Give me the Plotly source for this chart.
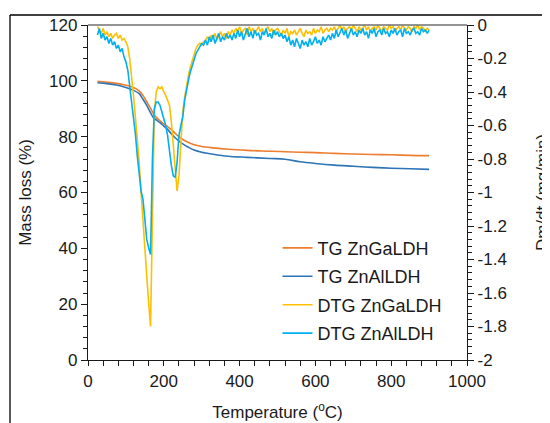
import plotly.graph_objects as go

# ---------------- data ----------------
tg_temp = [25, 50, 75, 100, 120, 135, 145, 155, 165, 172, 180, 190, 200, 210, 220, 230, 240,
           250, 265, 280, 300, 330, 370, 420, 480, 520, 560, 600, 650, 700, 750, 800, 850, 900]
tg_znga = [99.8, 99.5, 99.1, 98.4, 97.6, 96.4, 94.8, 92.5, 90.2, 88.4, 86.9, 85.7, 84.6, 83.6,
           82.5, 81.2, 80.0, 79.0, 77.9, 77.1, 76.5, 76.0, 75.5, 75.1, 74.8, 74.6, 74.4, 74.3,
           74.0, 73.8, 73.6, 73.5, 73.3, 73.2]
tg_znal = [99.3, 99.0, 98.5, 97.6, 96.6, 95.4, 93.4, 91.2, 88.6, 86.9, 86.0, 85.0, 83.8, 82.6,
           81.0, 79.6, 78.4, 77.4, 76.2, 75.2, 74.4, 73.7, 73.0, 72.6, 72.2, 71.9, 71.0, 70.4,
           69.8, 69.4, 69.0, 68.7, 68.5, 68.3]

# DTG series sampled every 5 degC starting at 25 degC
dtg_start = 25
dtg_step = 5
dtg_znga = [
    # 25-100
    -0.01, -0.03, -0.05, -0.02, -0.06, -0.04, -0.07, -0.05, -0.08, -0.06, -0.05, -0.08, -0.06, -0.09, -0.08, -0.10,
    # 105-170
    -0.13, -0.20, -0.30, -0.42, -0.55, -0.68, -0.82, -1.00, -1.18, -1.35, -1.50, -1.66, -1.80, -1.10,
    # 175-240
    -0.52, -0.40, -0.37, -0.38, -0.37, -0.40, -0.42, -0.45, -0.48, -0.58, -0.72, -0.86, -0.99, -0.90,
    # 245-305
    -0.72, -0.52, -0.43, -0.36, -0.30, -0.25, -0.21, -0.17, -0.14, -0.12, -0.11, -0.12, -0.10,
    # 310-380
    -0.09, -0.07, -0.10, -0.06, -0.08, -0.05, -0.09, -0.06, -0.04, -0.07, -0.05, -0.08, -0.04, -0.06, -0.03,
    # 385-500
    -0.05, -0.02, -0.04, -0.01, -0.05, -0.03, -0.02, -0.06, -0.01, -0.04, -0.02, -0.05, -0.03, -0.01, -0.04,
    -0.02, -0.05, -0.03, -0.01, -0.04, -0.02, -0.06, -0.03, -0.02,
    # 505-640
    -0.04, -0.06, -0.03, -0.05, -0.02, -0.07, -0.04, -0.05, -0.03, -0.06, -0.04, -0.02, -0.05, -0.07,
    -0.03, -0.05, -0.04, -0.06, -0.02, -0.05, -0.03, -0.04, -0.01, -0.05, -0.03, -0.02, -0.04, -0.02,
    # 645-900
    -0.03, -0.01, -0.04, -0.02, 0.0, -0.03, -0.01, -0.04, -0.02, -0.01, -0.03, 0.0, -0.02, -0.04, -0.01,
    -0.03, -0.02, 0.0, -0.03, -0.01, -0.04, -0.02, -0.01, -0.03, 0.0, -0.02, -0.04, -0.01, -0.02, -0.03,
    0.0, -0.02, -0.01, -0.04, -0.02, -0.01, -0.03, 0.0, -0.02, -0.03, -0.01, -0.02, -0.04, -0.01, -0.02,
    0.0, -0.03, -0.01, -0.02, -0.04, -0.02, -0.03,
]
dtg_znal = [
    # 25-100
    -0.06, -0.02, -0.08, -0.05, -0.09, -0.07, -0.11, -0.08, -0.12, -0.10, -0.14, -0.12, -0.16, -0.14, -0.19, -0.22,
    # 105-170
    -0.27, -0.36, -0.45, -0.55, -0.65, -0.78, -0.90, -0.99, -1.04, -1.18, -1.28, -1.33, -1.37, -0.80,
    # 175-240
    -0.50, -0.46, -0.46, -0.48, -0.52, -0.56, -0.60, -0.66, -0.76, -0.84, -0.90, -0.91, -0.82, -0.66,
    # 245-305
    -0.60, -0.55, -0.45, -0.38, -0.33, -0.28, -0.24, -0.20, -0.17, -0.15, -0.13, -0.11, -0.12,
    # 310-380
    -0.09, -0.12, -0.07, -0.10, -0.06, -0.11, -0.08, -0.05, -0.10, -0.07, -0.09, -0.05, -0.08, -0.06, -0.09,
    # 385-520
    -0.05, -0.08, -0.03, -0.07, -0.04, -0.09, -0.05, -0.02, -0.07, -0.04, -0.08, -0.03, -0.06, -0.05,
    -0.09, -0.04, -0.06, -0.02, -0.07, -0.05, -0.08, -0.03, -0.06, -0.04, -0.07, -0.05, -0.08, -0.06,
    # 525-640
    -0.10, -0.07, -0.12, -0.09, -0.13, -0.08, -0.11, -0.14, -0.09, -0.12, -0.10, -0.13, -0.08, -0.12,
    -0.10, -0.07, -0.11, -0.09, -0.12, -0.07, -0.10, -0.08, -0.06, -0.09,
    # 645-900
    -0.05, -0.08, -0.03, -0.07, -0.04, -0.02, -0.06, -0.03, -0.08, -0.05, -0.02, -0.06, -0.04, -0.07,
    -0.03, -0.05, -0.02, -0.06, -0.04, -0.08, -0.03, -0.05, -0.02, -0.07, -0.04, -0.03, -0.06, -0.02,
    -0.05, -0.04, -0.07, -0.03, -0.05, -0.02, -0.06, -0.04, -0.03, -0.07, -0.02, -0.05, -0.04, -0.06,
    -0.03, -0.02, -0.05, -0.04, -0.06, -0.02, -0.04, -0.03, -0.05, -0.03,
]

right_tickvals = [0, -0.2, -0.4, -0.6, -0.8, -1, -1.2, -1.4, -1.6, -1.8, -2]
right_ticktext = ["0", "-0.2", "-0.4", "-0.6", "-0.8", "-1", "-1.2", "-1.4", "-1.6", "-1.8", "-2"]

names = ["TG ZnGaLDH", "TG ZnAlLDH", "DTG ZnGaLDH", "DTG ZnAlLDH"]
colors = ["#ED7D31", "#2E75B6", "#FFC000", "#00B0F0"]

dtg_temp_ga = [dtg_start + dtg_step * i for i in range(len(dtg_znga))]
dtg_temp_al = [dtg_start + dtg_step * i for i in range(len(dtg_znal))]

FONT = "Liberation Sans, Arial, sans-serif"
TXT = "#1a1a1a"

fig = go.Figure()
fig.add_trace(go.Scatter(x=tg_temp, y=tg_znga, name=names[0], mode="lines", legendgroup="a",
                         line=dict(color=colors[0], width=1.6, shape="spline")))
fig.add_trace(go.Scatter(x=tg_temp, y=tg_znal, name=names[1], mode="lines", legendgroup="b",
                         line=dict(color=colors[1], width=1.6, shape="spline")))
fig.add_trace(go.Scatter(x=dtg_temp_ga, y=dtg_znga, name=names[2], mode="lines", yaxis="y2",
                         legendgroup="c", line=dict(color=colors[2], width=1.6)))
fig.add_trace(go.Scatter(x=dtg_temp_al, y=dtg_znal, name=names[3], mode="lines", yaxis="y2",
                         legendgroup="d", line=dict(color=colors[3], width=1.6)))

axis_common = dict(showgrid=False, zeroline=False, showline=True, linecolor="#1a1a1a", linewidth=1.3,
                   ticks="outside", tickcolor="#1a1a1a", tickwidth=1.2, automargin=False,
                   tickfont=dict(family=FONT, size=17, color=TXT))

fig.update_layout(
    width=550, height=423,
    margin=dict(l=80, r=91, t=17, b=71, autoexpand=False),
    paper_bgcolor="white", plot_bgcolor="white",
    font=dict(family=FONT, size=17, color=TXT),
    xaxis=dict(range=[0, 1000], dtick=200, tick0=0, ticklen=5,
               minor=dict(dtick=40, ticklen=5, ticks="outside", tickcolor="#1a1a1a"),
               title=dict(text="Temperature (<sup>o</sup>C)", font=dict(family=FONT, size=17, color=TXT),
                          standoff=16),
               **axis_common),
    yaxis=dict(range=[0, 120], dtick=20, tick0=0, ticklen=6,
               minor=dict(dtick=4, ticklen=4, ticks="outside", tickcolor="#1a1a1a"),
               title=dict(text="Mass loss (%)", font=dict(family=FONT, size=17, color=TXT), standoff=13),
               **axis_common),
    yaxis2=dict(overlaying="y", side="right", range=[-2, 0], tickmode="array",
                tickvals=right_tickvals, ticktext=right_ticktext, ticklen=6,
                minor=dict(dtick=0.04, ticklen=4, ticks="outside", tickcolor="#1a1a1a"),
                title=dict(text="Dm/dt (mg/min)", font=dict(family=FONT, size=17, color=TXT), standoff=30),
                **axis_common),
    legend=dict(x=0.50, y=0.389, xanchor="left", yanchor="top", bgcolor="rgba(0,0,0,0)",
                font=dict(family=FONT, size=18, color=TXT), tracegroupgap=2),
    showlegend=True,
    shapes=[
        dict(type="line", xref="paper", yref="paper", x0=0, x1=1, y0=1, y1=1,
             line=dict(color="#707070", width=1.5)),
        dict(type="line", xref="paper", yref="paper", x0=-0.2058, x1=1.35, y0=1.0299, y1=1.0299,
             line=dict(color="black", width=1.3)),
        dict(type="line", xref="paper", yref="paper", x0=-0.2058, x1=-0.2058, y0=1.0299, y1=-0.25,
             line=dict(color="black", width=1.3)),
    ],
)

fig.write_html("out.html")
